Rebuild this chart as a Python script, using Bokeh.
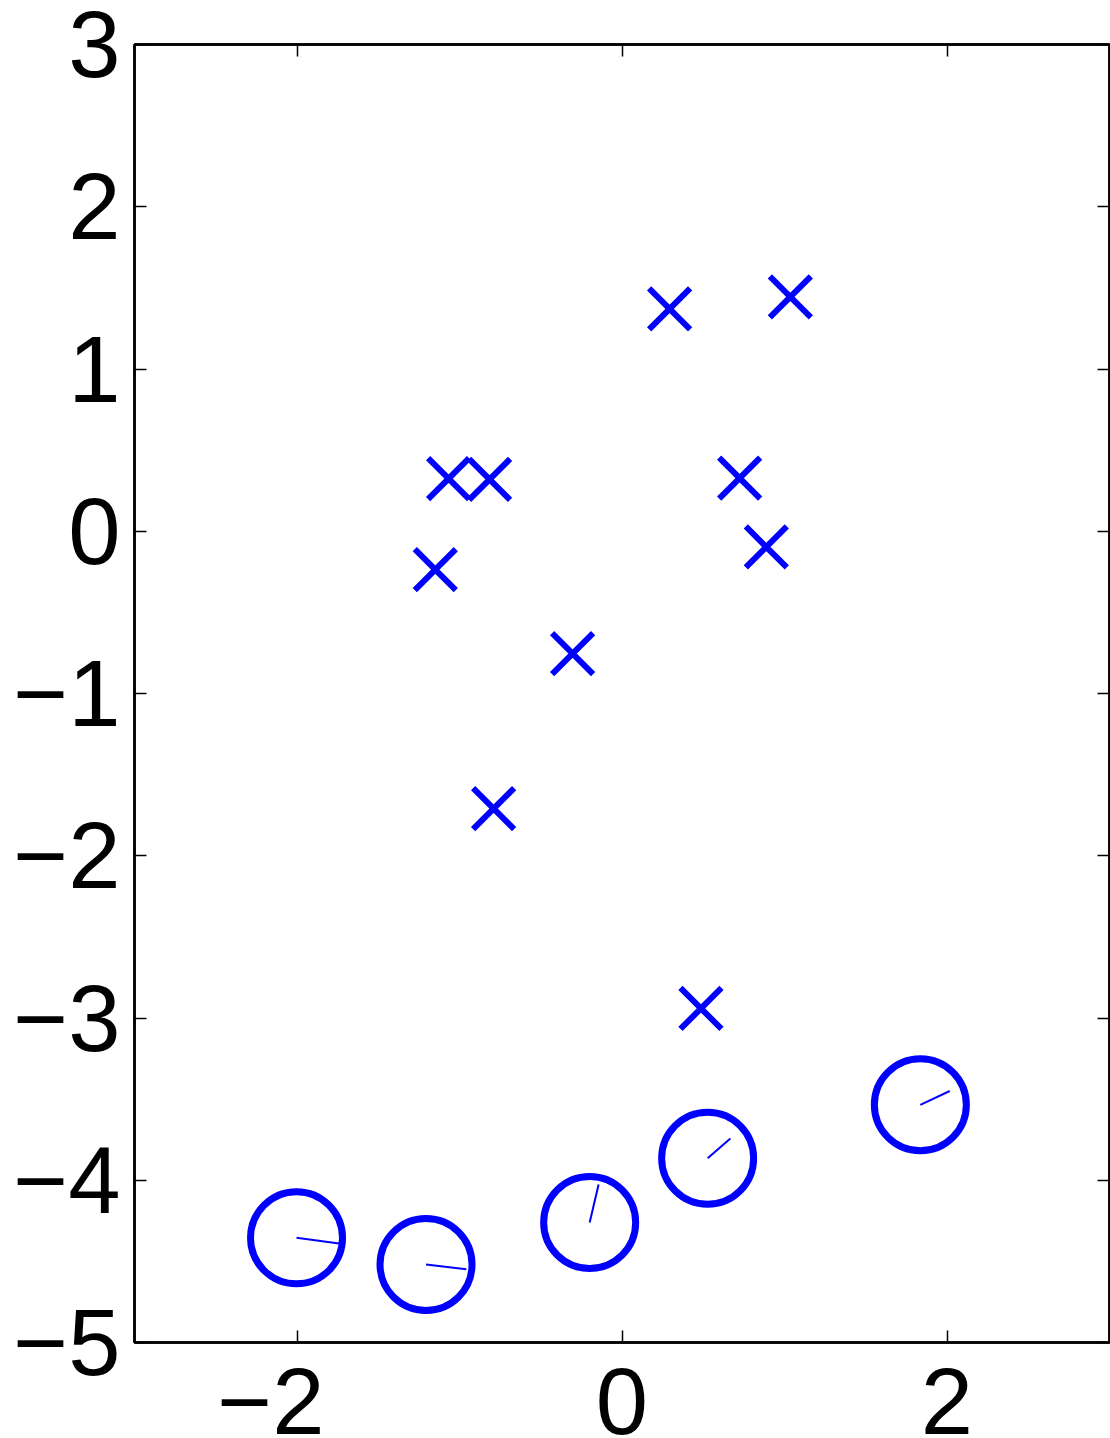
from bokeh.plotting import figure
from bokeh.models import LinearAxis, FixedTicker, Range1d, ColumnDataSource
from bokeh.embed import file_html
from bokeh.resources import INLINE

# ---- data ----
cross_x = [0.293, 1.036, -1.067, -0.815, 0.724, 0.888, -1.149, -0.304, -0.790, 0.486]
cross_y = [1.371, 1.444, 0.324, 0.320, 0.328, -0.097, -0.237, -0.754, -1.709, -2.941]

circ_x = [-2.003, -1.206, -0.199, 0.527, 1.836]
circ_y = [-4.355, -4.519, -4.260, -3.864, -3.535]
circ_dx = [0.262, 0.248, 0.055, 0.140, 0.181]
circ_dy = [-0.035, -0.029, 0.234, 0.122, 0.085]

x_ticks = [-2, 0, 2]
y_ticks = [-5, -4, -3, -2, -1, 0, 1, 2, 3]
x_range = (-3, 3)
y_range = (-5, 3)

BLUE = "#0000FF"
FONT = "Liberation Sans"

def lab(v, pad=False):
    if v < 0:
        s = "\u2212" + str(abs(v))
        # keep the digit centred under its tick, like the reference
        return s + "\u00a0\u00a0" if pad else s
    return str(v)

p = figure(frame_width=975, frame_height=1298, output_backend="svg", toolbar_location=None,
           x_range=Range1d(*x_range), y_range=Range1d(*y_range),
           x_axis_location=None, y_axis_location=None,
           min_border_left=134, min_border_top=44, min_border_right=1,
           min_border_bottom=90)
p.grid.visible = False
p.outline_line_color = "black"
p.outline_line_width = 2.5
p.background_fill_color = "white"
p.border_fill_color = "white"

def make_axis(ticks, show_labels, standoff=0, pad=False):
    ax = LinearAxis(ticker=FixedTicker(ticks=ticks))
    ax.major_label_overrides = {t: lab(t, pad) for t in ticks}
    ax.axis_line_color = "black"
    ax.axis_line_width = 2.5
    ax.major_tick_in = 12
    ax.major_tick_out = 0
    ax.major_tick_line_width = 1.5
    ax.major_tick_line_color = "black"
    ax.minor_tick_line_color = None
    ax.major_label_text_font = FONT
    ax.major_label_standoff = standoff
    if show_labels:
        ax.major_label_text_font_size = "94px"
        ax.major_label_text_color = "black"
    else:
        ax.major_label_text_font_size = "0px"
        ax.major_label_text_alpha = 0
    return ax

p.add_layout(make_axis(x_ticks, True, 6, pad=True), "below")
p.add_layout(make_axis(y_ticks, True, 14), "left")
p.add_layout(make_axis(x_ticks, False), "above")
p.add_layout(make_axis(y_ticks, False), "right")

# crosses
p.scatter(x=cross_x, y=cross_y, marker="x", size=58, line_color=BLUE, line_width=6)

# circles with direction lines
src = ColumnDataSource(dict(
    x=circ_x, y=circ_y,
    x1=[a + b for a, b in zip(circ_x, circ_dx)],
    y1=[a + b for a, b in zip(circ_y, circ_dy)],
))
p.scatter(x="x", y="y", source=src, marker="circle", size=92, fill_color=None,
          line_color=BLUE, line_width=7)
p.segment(x0="x", y0="y", x1="x1", y1="y1", source=src, line_color=BLUE, line_width=2)

open("out.html", "w").write(file_html(p, INLINE))
